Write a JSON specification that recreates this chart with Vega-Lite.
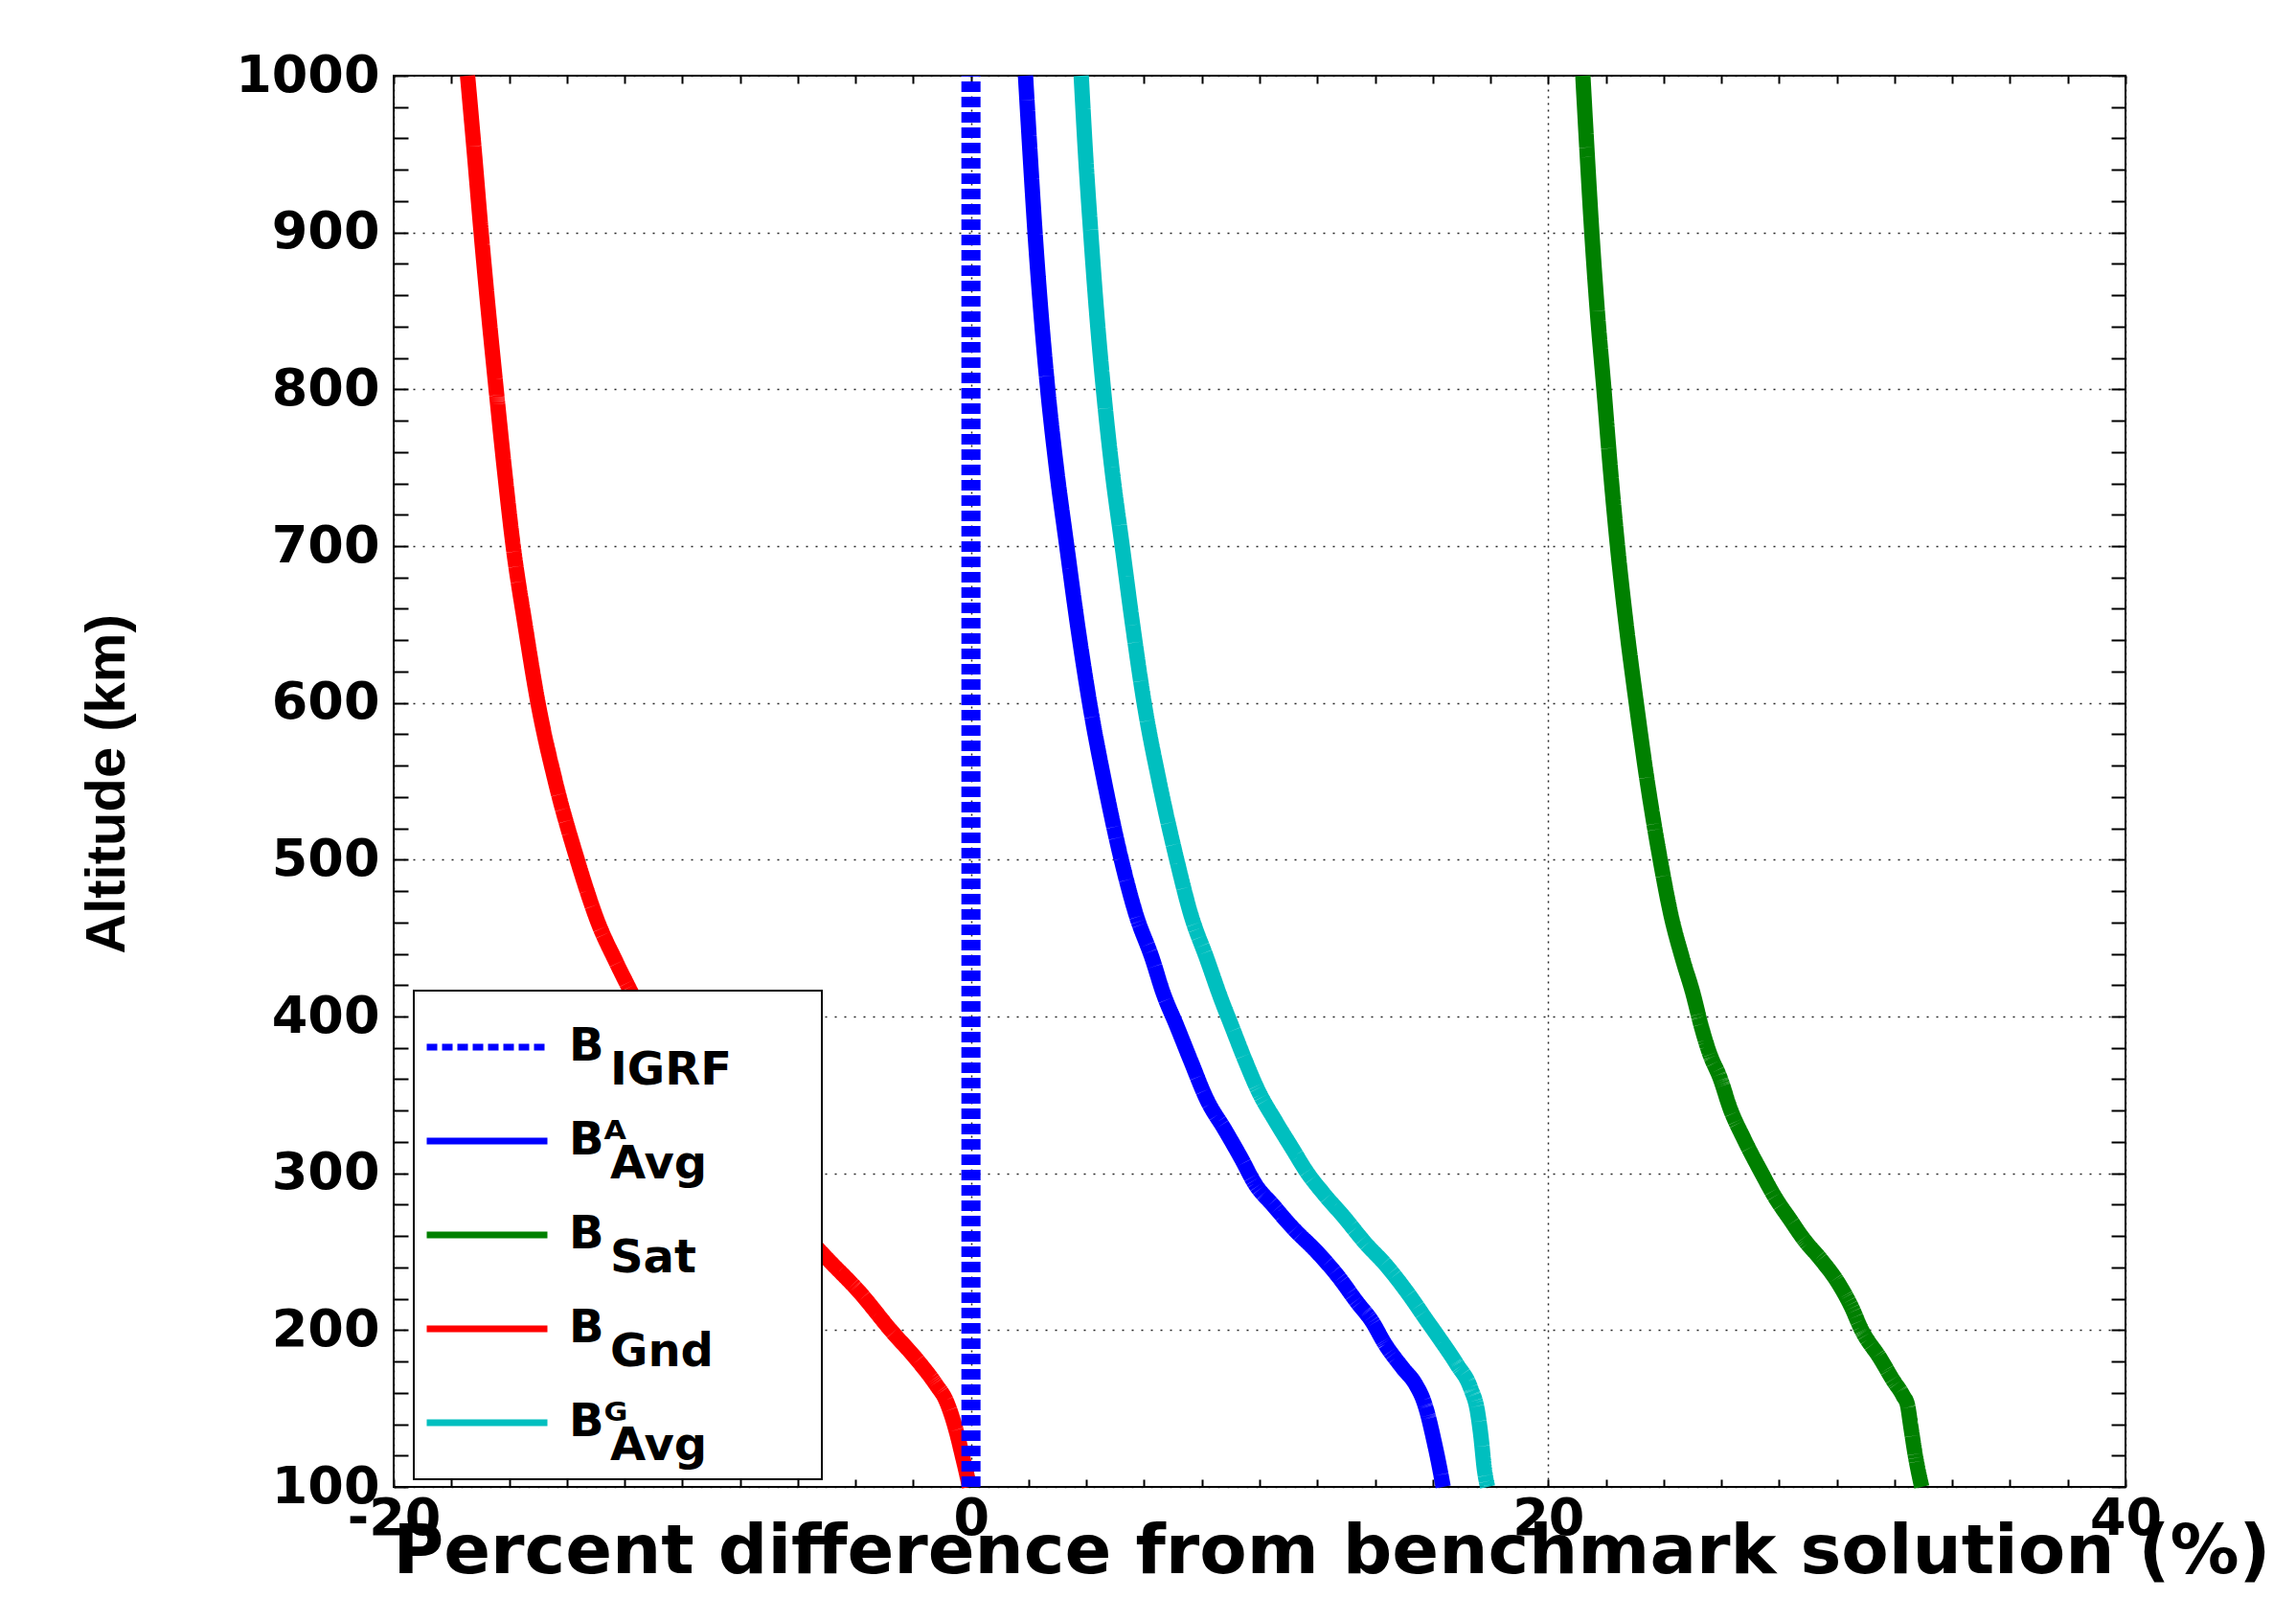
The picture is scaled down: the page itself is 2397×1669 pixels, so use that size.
{
  "$schema": "https://vega.github.io/schema/vega-lite/v6.json",
  "width": 1808,
  "height": 1473,
  "autosize": {"type": "none"},
  "padding": {"left": 411, "top": 79, "right": 178, "bottom": 117},
  "background": "white",
  "datasets": {
    "curves": [
      {"series": "AAvg", "alt": 1000, "pct": 1.89}, {"series": "AAvg", "alt": 950, "pct": 2.05}, {"series": "AAvg", "alt": 900, "pct": 2.22},
      {"series": "AAvg", "alt": 850, "pct": 2.42}, {"series": "AAvg", "alt": 800, "pct": 2.66}, {"series": "AAvg", "alt": 750, "pct": 2.96},
      {"series": "AAvg", "alt": 700, "pct": 3.32}, {"series": "AAvg", "alt": 650, "pct": 3.69}, {"series": "AAvg", "alt": 600, "pct": 4.11},
      {"series": "AAvg", "alt": 550, "pct": 4.62}, {"series": "AAvg", "alt": 500, "pct": 5.21}, {"series": "AAvg", "alt": 465, "pct": 5.72},
      {"series": "AAvg", "alt": 437, "pct": 6.28}, {"series": "AAvg", "alt": 415, "pct": 6.66}, {"series": "AAvg", "alt": 394, "pct": 7.13},
      {"series": "AAvg", "alt": 372, "pct": 7.61}, {"series": "AAvg", "alt": 346, "pct": 8.2}, {"series": "AAvg", "alt": 328, "pct": 8.79},
      {"series": "AAvg", "alt": 309, "pct": 9.38}, {"series": "AAvg", "alt": 293, "pct": 9.85}, {"series": "AAvg", "alt": 280, "pct": 10.45},
      {"series": "AAvg", "alt": 265, "pct": 11.16}, {"series": "AAvg", "alt": 250, "pct": 11.98}, {"series": "AAvg", "alt": 235, "pct": 12.69},
      {"series": "AAvg", "alt": 217, "pct": 13.41}, {"series": "AAvg", "alt": 206, "pct": 13.88}, {"series": "AAvg", "alt": 191, "pct": 14.35},
      {"series": "AAvg", "alt": 176, "pct": 14.95}, {"series": "AAvg", "alt": 165, "pct": 15.42}, {"series": "AAvg", "alt": 155, "pct": 15.68},
      {"series": "AAvg", "alt": 148, "pct": 15.8}, {"series": "AAvg", "alt": 132, "pct": 16.01}, {"series": "AAvg", "alt": 111, "pct": 16.25},
      {"series": "AAvg", "alt": 100, "pct": 16.36},

      {"series": "GAvg", "alt": 1000, "pct": 3.82}, {"series": "GAvg", "alt": 950, "pct": 3.97}, {"series": "GAvg", "alt": 900, "pct": 4.15},
      {"series": "GAvg", "alt": 850, "pct": 4.35}, {"series": "GAvg", "alt": 800, "pct": 4.59}, {"series": "GAvg", "alt": 750, "pct": 4.88},
      {"series": "GAvg", "alt": 700, "pct": 5.24}, {"series": "GAvg", "alt": 650, "pct": 5.6}, {"series": "GAvg", "alt": 600, "pct": 6.0},
      {"series": "GAvg", "alt": 550, "pct": 6.52}, {"series": "GAvg", "alt": 500, "pct": 7.13}, {"series": "GAvg", "alt": 465, "pct": 7.62},
      {"series": "GAvg", "alt": 437, "pct": 8.17}, {"series": "GAvg", "alt": 411, "pct": 8.67}, {"series": "GAvg", "alt": 394, "pct": 9.03},
      {"series": "GAvg", "alt": 372, "pct": 9.5}, {"series": "GAvg", "alt": 352, "pct": 9.97}, {"series": "GAvg", "alt": 333, "pct": 10.56},
      {"series": "GAvg", "alt": 315, "pct": 11.16}, {"series": "GAvg", "alt": 301, "pct": 11.63}, {"series": "GAvg", "alt": 287, "pct": 12.22},
      {"series": "GAvg", "alt": 272, "pct": 12.93}, {"series": "GAvg", "alt": 256, "pct": 13.64}, {"series": "GAvg", "alt": 241, "pct": 14.4},
      {"series": "GAvg", "alt": 224, "pct": 15.12}, {"series": "GAvg", "alt": 206, "pct": 15.8}, {"series": "GAvg", "alt": 195, "pct": 16.22},
      {"series": "GAvg", "alt": 178, "pct": 16.84}, {"series": "GAvg", "alt": 163, "pct": 17.31}, {"series": "GAvg", "alt": 148, "pct": 17.55},
      {"series": "GAvg", "alt": 132, "pct": 17.67}, {"series": "GAvg", "alt": 111, "pct": 17.79}, {"series": "GAvg", "alt": 100, "pct": 17.9},

      {"series": "Sat", "alt": 1000, "pct": 21.2}, {"series": "Sat", "alt": 950, "pct": 21.35}, {"series": "Sat", "alt": 900, "pct": 21.51},
      {"series": "Sat", "alt": 850, "pct": 21.7}, {"series": "Sat", "alt": 800, "pct": 21.93}, {"series": "Sat", "alt": 750, "pct": 22.15},
      {"series": "Sat", "alt": 700, "pct": 22.4}, {"series": "Sat", "alt": 650, "pct": 22.7}, {"series": "Sat", "alt": 600, "pct": 23.05},
      {"series": "Sat", "alt": 550, "pct": 23.43}, {"series": "Sat", "alt": 500, "pct": 23.88}, {"series": "Sat", "alt": 465, "pct": 24.25},
      {"series": "Sat", "alt": 437, "pct": 24.65}, {"series": "Sat", "alt": 415, "pct": 25.01}, {"series": "Sat", "alt": 394, "pct": 25.3},
      {"series": "Sat", "alt": 376, "pct": 25.6}, {"series": "Sat", "alt": 361, "pct": 25.95}, {"series": "Sat", "alt": 341, "pct": 26.31},
      {"series": "Sat", "alt": 322, "pct": 26.78}, {"series": "Sat", "alt": 300, "pct": 27.4}, {"series": "Sat", "alt": 285, "pct": 27.85},
      {"series": "Sat", "alt": 270, "pct": 28.4}, {"series": "Sat", "alt": 258, "pct": 28.85}, {"series": "Sat", "alt": 245, "pct": 29.45},
      {"series": "Sat", "alt": 230, "pct": 30.05}, {"series": "Sat", "alt": 215, "pct": 30.5}, {"series": "Sat", "alt": 200, "pct": 30.86},
      {"series": "Sat", "alt": 182, "pct": 31.5}, {"series": "Sat", "alt": 168, "pct": 31.95}, {"series": "Sat", "alt": 158, "pct": 32.3},
      {"series": "Sat", "alt": 152, "pct": 32.45}, {"series": "Sat", "alt": 140, "pct": 32.55}, {"series": "Sat", "alt": 120, "pct": 32.72},
      {"series": "Sat", "alt": 100, "pct": 32.94},

      {"series": "Gnd", "alt": 1000, "pct": -17.44}, {"series": "Gnd", "alt": 950, "pct": -17.2}, {"series": "Gnd", "alt": 900, "pct": -16.97},
      {"series": "Gnd", "alt": 850, "pct": -16.72}, {"series": "Gnd", "alt": 800, "pct": -16.45}, {"series": "Gnd", "alt": 750, "pct": -16.17},
      {"series": "Gnd", "alt": 700, "pct": -15.86}, {"series": "Gnd", "alt": 650, "pct": -15.45}, {"series": "Gnd", "alt": 600, "pct": -15.0},
      {"series": "Gnd", "alt": 550, "pct": -14.4}, {"series": "Gnd", "alt": 500, "pct": -13.64}, {"series": "Gnd", "alt": 480, "pct": -13.3},
      {"series": "Gnd", "alt": 460, "pct": -12.92}, {"series": "Gnd", "alt": 435, "pct": -12.3},
      {"series": "Gnd", "alt": 410, "pct": -11.62}, {"series": "Gnd", "alt": 375, "pct": -10.6}, {"series": "Gnd", "alt": 350, "pct": -9.8},
      {"series": "Gnd", "alt": 325, "pct": -8.85}, {"series": "Gnd", "alt": 300, "pct": -7.75}, {"series": "Gnd", "alt": 275, "pct": -6.45},
      {"series": "Gnd", "alt": 246, "pct": -5.0}, {"series": "Gnd", "alt": 224, "pct": -3.85}, {"series": "Gnd", "alt": 200, "pct": -2.78},
      {"series": "Gnd", "alt": 180, "pct": -1.82}, {"series": "Gnd", "alt": 165, "pct": -1.2}, {"series": "Gnd", "alt": 155, "pct": -0.86},
      {"series": "Gnd", "alt": 145, "pct": -0.66}, {"series": "Gnd", "alt": 135, "pct": -0.5}, {"series": "Gnd", "alt": 120, "pct": -0.3},
      {"series": "Gnd", "alt": 110, "pct": -0.17}, {"series": "Gnd", "alt": 100, "pct": -0.05}
    ],
    "igrf": [
      {"series": "IGRF", "alt": 100, "pct": 0},
      {"series": "IGRF", "alt": 1000, "pct": 0}
    ]
  },
  "layer": [
    {
      "data": {"name": "curves"},
      "mark": {"type": "line", "strokeWidth": 16, "strokeJoin": "round", "strokeCap": "butt", "interpolate": "monotone"},
      "encoding": {
        "x": {
          "field": "pct", "type": "quantitative",
          "scale": {"domain": [-20, 40], "nice": false, "zero": false},
          "axis": {
            "orient": "bottom",
            "values": [-20, -18, -16, -14, -12, -10, -8, -6, -4, -2, 0, 2, 4, 6, 8, 10, 12, 14, 16, 18, 20, 22, 24, 26, 28, 30, 32, 34, 36, 38, 40],
            "labelExpr": "datum.value % 20 === 0 ? '' + datum.value : ''",
            "domain": false,
            "ticks": true, "tickSize": -8, "tickWidth": 2, "tickColor": "black",
            "grid": true, "gridColor": "black", "gridWidth": 1.5, "gridDash": [2, 5],
            "gridOpacity": {"condition": {"test": "datum.value % 20 === 0", "value": 0.85}, "value": 0},
            "labelFont": "DejaVu Sans", "labelFontSize": 54, "labelFontWeight": "bold", "labelColor": "black",
            "labelPadding": 14, "labelFlush": false, "labelOverlap": false, "labelBound": false,
            "title": "Percent difference from benchmark solution (%)",
            "titleFont": "DejaVu Sans", "titleFontSize": 72, "titleFontWeight": "bold", "titleColor": "black",
            "titleX": 979, "titleY": 89, "titleAlign": "center", "titleBaseline": "alphabetic", "titleLimit": 4000
          }
        },
        "y": {
          "field": "alt", "type": "quantitative",
          "scale": {"domain": [100, 1000], "nice": false, "zero": false},
          "axis": {
            "orient": "left",
            "values": [100, 120, 140, 160, 180, 200, 220, 240, 260, 280, 300, 320, 340, 360, 380, 400, 420, 440, 460, 480, 500, 520, 540, 560, 580, 600, 620, 640, 660, 680, 700, 720, 740, 760, 780, 800, 820, 840, 860, 880, 900, 920, 940, 960, 980, 1000],
            "labelExpr": "datum.value % 100 === 0 ? '' + datum.value : ''",
            "domain": false,
            "ticks": true, "tickSize": -15, "tickWidth": 2, "tickColor": "black",
            "grid": true, "gridColor": "black", "gridWidth": 1.5, "gridDash": [2, 8],
            "gridOpacity": {"condition": {"test": "datum.value % 100 === 0", "value": 0.85}, "value": 0},
            "labelFont": "DejaVu Sans", "labelFontSize": 54, "labelFontWeight": "bold", "labelColor": "black",
            "labelPadding": 30, "labelFlush": false, "labelOverlap": false, "labelBound": false,
            "title": "Altitude (km)",
            "titleFont": "Liberation Sans", "titleFontSize": 58, "titleFontWeight": "bold", "titleColor": "black",
            "titleAngle": 270, "titleX": -299, "titleY": 739, "titleAlign": "center", "titleBaseline": "middle", "titleLimit": 4000
          }
        },
        "color": {
          "field": "series", "type": "nominal",
          "scale": {"domain": ["IGRF", "AAvg", "Sat", "Gnd", "GAvg"], "range": ["#0000FF", "#0000FF", "#008000", "#FF0000", "#00BFBF"]},
          "legend": {
            "title": null,
            "labelExpr": "datum.value === 'IGRF' ? ['B', '\u200b\u00a0\u00a0\u2009IGRF\u00a0\u00a0\u00a0\u00a0\u00a0\u200b'] : datum.value === 'AAvg' ? ['B\u1d2c', '\u200b\u00a0\u00a0\u2009Avg'] : datum.value === 'Sat' ? ['B', '\u200b\u00a0\u00a0\u2009Sat'] : datum.value === 'Gnd' ? ['B', '\u200b\u00a0\u00a0\u2009Gnd'] : ['B\u1d33', '\u200b\u00a0\u00a0\u2009Avg']"
          }
        },
        "strokeDash": {
          "field": "series", "type": "nominal",
          "scale": {"domain": ["IGRF", "AAvg", "Sat", "Gnd", "GAvg"], "range": [[11, 5], [1, 0], [1, 0], [1, 0], [1, 0]]},
          "legend": {
            "title": null,
            "labelExpr": "datum.value === 'IGRF' ? ['B', '\u200b\u00a0\u00a0\u2009IGRF\u00a0\u00a0\u00a0\u00a0\u00a0\u200b'] : datum.value === 'AAvg' ? ['B\u1d2c', '\u200b\u00a0\u00a0\u2009Avg'] : datum.value === 'Sat' ? ['B', '\u200b\u00a0\u00a0\u2009Sat'] : datum.value === 'Gnd' ? ['B', '\u200b\u00a0\u00a0\u2009Gnd'] : ['B\u1d33', '\u200b\u00a0\u00a0\u2009Avg']"
          }
        },
        "order": {"field": "alt", "type": "quantitative"}
      }
    },
    {
      "data": {"name": "igrf"},
      "mark": {"type": "line", "strokeWidth": 20, "strokeCap": "butt"},
      "encoding": {
        "x": {"field": "pct", "type": "quantitative", "axis": null},
        "y": {"field": "alt", "type": "quantitative", "axis": null},
        "color": {"field": "series", "type": "nominal"},
        "strokeDash": {"field": "series", "type": "nominal"},
        "order": {"field": "alt", "type": "quantitative"}
      }
    },
    {
      "data": {"name": "curves"},
      "mark": {"type": "line", "strokeOpacity": 0, "strokeWidth": 0},
      "encoding": {
        "x": {
          "field": "pct", "type": "quantitative",
          "axis": {
            "orient": "top",
            "values": [-20, -18, -16, -14, -12, -10, -8, -6, -4, -2, 0, 2, 4, 6, 8, 10, 12, 14, 16, 18, 20, 22, 24, 26, 28, 30, 32, 34, 36, 38, 40],
            "labels": false, "domain": false, "grid": false, "title": null,
            "ticks": true, "tickSize": -8, "tickWidth": 2, "tickColor": "black"
          }
        },
        "y": {
          "field": "alt", "type": "quantitative",
          "axis": {
            "orient": "right",
            "values": [100, 120, 140, 160, 180, 200, 220, 240, 260, 280, 300, 320, 340, 360, 380, 400, 420, 440, 460, 480, 500, 520, 540, 560, 580, 600, 620, 640, 660, 680, 700, 720, 740, 760, 780, 800, 820, 840, 860, 880, 900, 920, 940, 960, 980, 1000],
            "labels": false, "domain": false, "grid": false, "title": null,
            "ticks": true, "tickSize": -15, "tickWidth": 2, "tickColor": "black"
          }
        },
        "detail": {"field": "series", "type": "nominal"},
        "order": {"field": "alt", "type": "quantitative"}
      }
    }
  ],
  "resolve": {"axis": {"x": "independent", "y": "independent"}},
  "config": {
    "view": {"stroke": "black", "strokeWidth": 2},
    "style": {"guide-label": {"lineHeight": 25}},
    "legend": {
      "orient": "none",
      "legendX": 21,
      "legendY": 955,
      "direction": "vertical",
      "strokeColor": "black",
      "strokeWidth": 2,
      "fillColor": "white",
      "padding": 10,
      "cornerRadius": 0,
      "symbolType": "stroke",
      "symbolSize": 15876,
      "symbolStrokeWidth": 7,
      "clipHeight": 98,
      "labelFont": "DejaVu Sans",
      "labelFontSize": 48,
      "labelFontWeight": "bold",
      "labelColor": "black",
      "labelOffset": 19,
      "labelLimit": 2000,
      "labelBaseline": "middle",
      "rowPadding": 0
    }
  }
}
